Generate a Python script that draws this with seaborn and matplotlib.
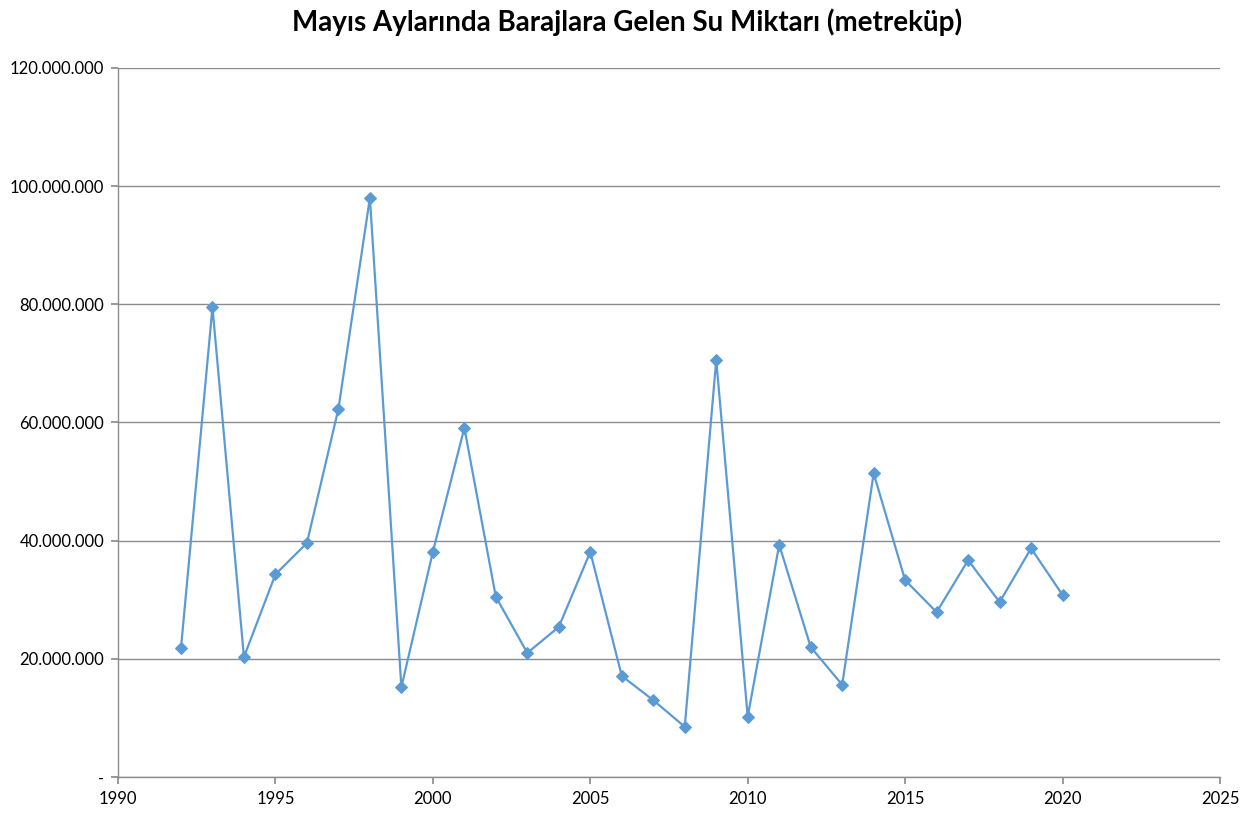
import matplotlib
matplotlib.use("Agg")
import matplotlib.pyplot as plt
import matplotlib.ticker as mticker
import seaborn as sns
import pandas as pd

# Yearly May inflow values
years = [1992, 1993, 1994, 1995, 1996, 1997, 1998, 1999, 2000, 2001,
         2002, 2003, 2004, 2005, 2006, 2007, 2008, 2009, 2010, 2011,
         2012, 2013, 2014, 2015, 2016, 2017, 2018, 2019, 2020]
water_m3 = [21.8e6, 79.5e6, 20.3e6, 34.3e6, 39.6e6, 62.3e6, 98.0e6, 15.2e6, 38.1e6, 59.1e6,
            30.5e6, 21.0e6, 25.4e6, 38.1e6, 17.1e6, 13.0e6, 8.5e6, 70.6e6, 10.2e6, 39.3e6,
            22.0e6, 15.6e6, 51.4e6, 33.3e6, 27.9e6, 36.7e6, 29.6e6, 38.7e6, 30.8e6]
x_ticks = [1990, 1995, 2000, 2005, 2010, 2015, 2020, 2025]
y_ticks = [0, 20e6, 40e6, 60e6, 80e6, 100e6, 120e6]

title = "Mayıs Aylarında Barajlara Gelen Su Miktarı (metreküp)"

sns.set_theme(style="white")
plt.rcParams['font.family'] = ['Lato', 'DejaVu Sans']

df = pd.DataFrame({"yil": years, "su": water_m3})

fig = plt.figure(figsize=(12.55, 8.19), dpi=100)
ax = fig.add_axes([118 / 1255, 42 / 819, 1102 / 1255, 709 / 819])

line_color = "#5B9BD5"
sns.lineplot(data=df, x="yil", y="su", ax=ax, color=line_color, linewidth=1.6,
             marker="D", markersize=6, markeredgecolor=line_color)

ax.set_xlim(1990, 2025)
ax.set_ylim(0, 120e6)
ax.set_xticks(x_ticks)
ax.set_yticks(y_ticks)


def fmt_dots(v, pos):
    if v == 0:
        return "-"
    return f"{int(v):,}".replace(",", ".")


ax.yaxis.set_major_formatter(mticker.FuncFormatter(fmt_dots))
ax.grid(axis="y", color="#8c8c8c", linewidth=1)
ax.set_axisbelow(True)

for side in ["top", "right"]:
    ax.spines[side].set_visible(False)
for side in ["left", "bottom"]:
    ax.spines[side].set_color("#8c8c8c")
    ax.spines[side].set_linewidth(1)

ax.tick_params(axis="x", which="major", direction="out", length=5, color="#8c8c8c",
               labelsize=12, labelcolor="black", bottom=True, pad=5)
ax.tick_params(axis="y", which="major", direction="out", length=5, color="#8c8c8c",
               labelsize=12, labelcolor="black", left=True, pad=5)
ax.set_xlabel("")
ax.set_ylabel("")

fig.suptitle(title, fontsize=20, fontweight="bold", color="black", y=0.99)

fig.savefig("out.png", dpi=100)
